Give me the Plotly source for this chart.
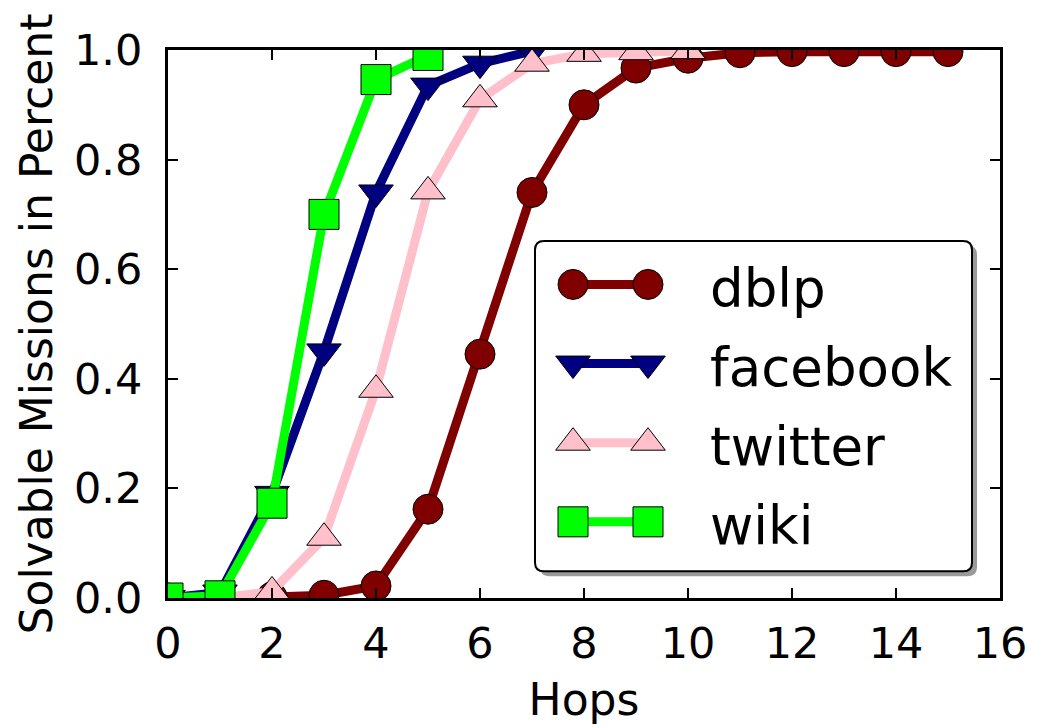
import plotly.graph_objects as go

# Share of solvable missions per number of hops, one series per network
dblp_hops = list(range(16))
dblp_vals = [0.0, 0.0, 0.002, 0.005, 0.022, 0.162, 0.445, 0.74, 0.90, 0.967,
             0.985, 0.995, 0.997, 0.997, 0.997, 0.997]

facebook_hops = list(range(8))
facebook_vals = [0.0, 0.01, 0.19, 0.45, 0.74, 0.935, 0.975, 0.998]

twitter_hops = list(range(11))
twitter_vals = [0.0, 0.0, 0.012, 0.11, 0.38, 0.742, 0.91, 0.975, 0.993, 0.996, 0.998]

wiki_hops = list(range(6))
wiki_vals = [0.0, 0.004, 0.173, 0.70, 0.946, 0.99]

x_ticks = [0, 2, 4, 6, 8, 10, 12, 14, 16]
y_ticks = [0.0, 0.2, 0.4, 0.6, 0.8, 1.0]

series = [
    ("dblp", dblp_hops, dblp_vals, "#800000", "circle", 30),
    ("facebook", facebook_hops, facebook_vals, "#000080", "triangle-down", 30),
    ("twitter", twitter_hops, twitter_vals, "#FFC0CB", "triangle-up", 30),
    ("wiki", wiki_hops, wiki_vals, "#00FF00", "square", 30),
]

FONT = "DejaVu Sans"
W, H = 1042, 728
ML, MR, MT, MB = 168, 42, 50, 124
PW, PH = W - ML - MR, H - MT - MB
LINE_W = 9

fig = go.Figure()

for name, xs, ys, color, symbol, size in series:
    fig.add_trace(go.Scatter(
        x=xs, y=ys, name=name, mode="lines+markers",
        line=dict(color=color, width=LINE_W),
        marker=dict(symbol=symbol, size=size, color=color,
                    line=dict(color="black", width=1)),
        showlegend=False,
    ))

# Hand-built legend box on a pixel-scaled overlay axis (two markers per sample)
box_l, box_r, box_t, box_b = 367, 804, 193, 527
rad = 9
shadow = 5


def rounded_rect(l, t, r, b, rr):
    return (f"M{l + rr},{t} L{r - rr},{t} Q{r},{t} {r},{t + rr} "
            f"L{r},{b - rr} Q{r},{b} {r - rr},{b} L{l + rr},{b} "
            f"Q{l},{b} {l},{b - rr} L{l},{t + rr} Q{l},{t} {l + rr},{t} Z")


fig.add_shape(type="path", xref="x2", yref="y2", layer="below",
              path=rounded_rect(box_l + shadow, box_t + shadow,
                                box_r + shadow, box_b + shadow, rad),
              fillcolor="#9a9a9a", line=dict(width=0))
fig.add_shape(type="path", xref="x2", yref="y2", layer="below",
              path=rounded_rect(box_l, box_t, box_r, box_b, rad),
              fillcolor="white", line=dict(color="black", width=2))

row0, row_gap = 237, 80
sample_x = [405, 480]
text_x = 540
for i, (name, xs, ys, color, symbol, size) in enumerate(series):
    ry = row0 + i * row_gap
    fig.add_trace(go.Scatter(
        x=sample_x, y=[ry, ry], xaxis="x2", yaxis="y2",
        mode="lines+markers", showlegend=False, hoverinfo="skip",
        cliponaxis=False,
        line=dict(color=color, width=LINE_W),
        marker=dict(symbol=symbol, size=size, color=color,
                    line=dict(color="black", width=1)),
    ))
    fig.add_annotation(x=text_x, y=ry + 4, xref="x2", yref="y2", text=name,
                       showarrow=False, xanchor="left", yanchor="middle",
                       font=dict(family=FONT, size=53, color="black"))

axis_common = dict(
    showgrid=False, zeroline=False, showline=True, linecolor="black",
    linewidth=3, mirror="ticks", ticks="inside", ticklen=10, tickwidth=2,
    tickcolor="black", tickfont=dict(family=FONT, size=43, color="black"),
)

fig.update_layout(
    width=W, height=H,
    margin=dict(l=ML, r=MR, t=MT, b=MB),
    paper_bgcolor="white", plot_bgcolor="white",
    font=dict(family=FONT, color="black"),
    xaxis=dict(range=[0, 16], tickvals=x_ticks,
               ticktext=[str(v) for v in x_ticks], ticklabelstandoff=5,
               title=dict(text="Hops", font=dict(family=FONT, size=44),
                          standoff=18),
               **axis_common),
    yaxis=dict(range=[0, 1], tickvals=y_ticks,
               ticktext=[f"{v:.1f}" for v in y_ticks], ticklabelstandoff=14,
               title=dict(text="Solvable Missions in Percent",
                          font=dict(family=FONT, size=44), standoff=8),
               **axis_common),
    xaxis2=dict(range=[0, PW], overlaying="x", visible=False, fixedrange=True),
    yaxis2=dict(range=[PH, 0], overlaying="y", visible=False, fixedrange=True),
    showlegend=False,
)

fig.write_html("out.html")
